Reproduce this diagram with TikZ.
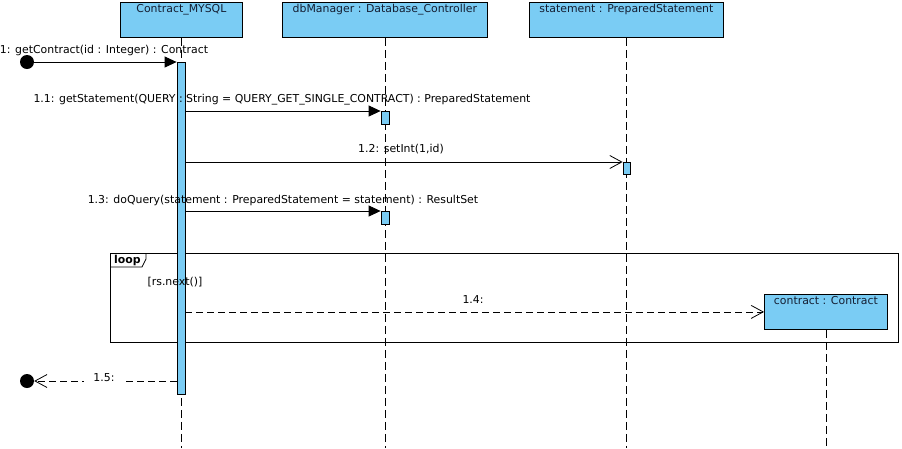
\documentclass[tikz,border=0pt]{standalone}
\usepackage{fontspec}
\setmainfont{DejaVu Sans}
\usetikzlibrary{arrows.meta}
\definecolor{vpblue}{RGB}{122,204,244}
\definecolor{headtext}{RGB}{20,30,50}
\begin{document}
\begin{tikzpicture}[x=1pt,y=-1pt,
  font=\fontsize{10.9}{12}\selectfont,
  head/.style={draw, fill=vpblue, line width=0.8pt, anchor=north west, inner sep=0pt},
  headlabel/.style={anchor=north, inner sep=2pt, text=headtext},
  life/.style={line width=0.8pt, dash pattern=on 8pt off 4pt},
  act/.style={draw, fill=vpblue, line width=0.8pt, anchor=north, minimum width=8pt, inner sep=0pt},
  endpt/.style={circle, fill=black, minimum size=14pt, inner sep=0pt},
  syncmsg/.style={line width=0.8pt, -{Triangle[length=12pt,width=11pt]}},
  asyncmsg/.style={line width=0.8pt, -{Straight Barb[length=12pt,width=13pt,line width=0.8pt]}},
  retmsg/.style={line width=0.8pt, dash pattern=on 7pt off 4pt, -{Straight Barb[length=12pt,width=13pt,line width=0.8pt]}},
  msglabel/.style={inner sep=1pt},
  frame/.style={draw, line width=0.8pt, anchor=north west, inner sep=0pt}
]
\useasboundingbox (0,0) rectangle (902,448);
\fill[white] (0,0) rectangle (902,448);

% lifeline heads
\node[head, minimum width=122pt, minimum height=35pt, label={[headlabel]north:Contract\_MYSQL}] (cm) at (120,2) {};
\node[head, minimum width=205pt, minimum height=35pt, label={[headlabel]north:dbManager : Database\_Controller}] (db) at (282,2) {};
\node[head, minimum width=194pt, minimum height=35pt, label={[headlabel]north:statement : PreparedStatement}] (st) at (529,2) {};

% loop frame
\node[frame, minimum width=788pt, minimum height=89pt] (loop) at (110,253) {};
\draw[line width=0.8pt] (loop.north west) ++(36,0) coordinate (lt1) -- ++(0,6) -- ++(-4,8) -- (loop.west |- 0,267);

% created object
\node[head, minimum width=123pt, minimum height=35pt, label={[headlabel]north:contract : Contract}] (ct) at (764,294) {};

% lifelines
\coordinate (bot) at (0,448);
\draw[life] (cm.south) -- (cm.south |- bot);
\draw[life] (db.south) -- (db.south |- bot);
\draw[life] (st.south) -- (st.south |- bot);
\draw[life] (ct.south) -- (ct.south |- bot);

% activations
\node[act, minimum height=332pt] (a0) at (181,62) {};
\node[act, minimum height=13pt] (a1) at (385,111) {};
\node[act, minimum width=7pt, minimum height=12pt] (a2) at (626.5,162) {};
\node[act, minimum height=13pt] (a3) at (385,211) {};

% found / lost points
\node[endpt] (s1) at (27,62) {};
\node[endpt] (e1) at (27,381) {};

% messages
\draw[syncmsg] (s1.center) -- (a0.north west);
\draw[syncmsg] (a0.east |- a1.north) -- (a1.north west);
\draw[asyncmsg] (a0.east |- a2.north) -- (a2.north west);
\draw[syncmsg] (a0.east |- a3.north) -- (a3.north west);
\draw[retmsg] (a0.east |- ct.west) -- (ct.west);
\draw[retmsg] (a0.west |- e1.center) -- (e1.east);

% labels
\node[anchor=north west, inner xsep=4pt, inner ysep=2pt, font=\fontsize{10.9}{12}\selectfont\bfseries] (looptag) at (loop.north west) {loop};
\node[msglabel] (guard) at (175,282) {[rs.next()]};
\node[msglabel] (m1) at (104,50) {1: getContract(id : Integer) : Contract};
\node[msglabel] (m11) at (282,100) {1.1: getStatement(QUERY : String = QUERY\_GET\_SINGLE\_CONTRACT) : PreparedStatement};
\node[msglabel] (m12) at (401,149) {1.2: setInt(1,id)};
\node[msglabel] (m13) at (283,200) {1.3: doQuery(statement : PreparedStatement = statement) : ResultSet};
\node[msglabel] (m14) at (473,300) {1.4:};
\node[fill=white, inner xsep=9pt, inner ysep=2pt] (m15) at (104,378) {1.5:};
\end{tikzpicture}
\end{document}
